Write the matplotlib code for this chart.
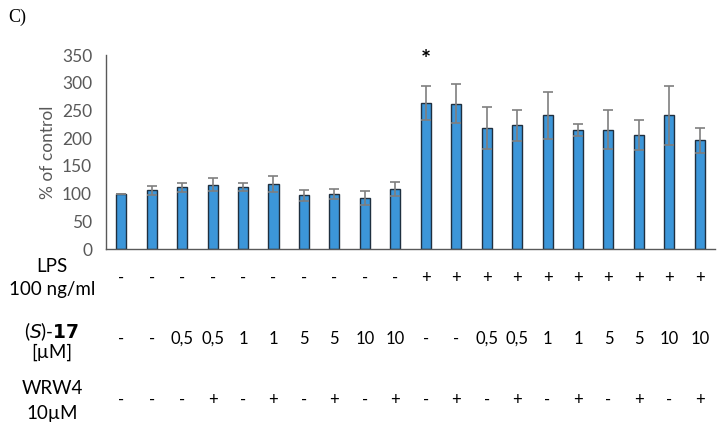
import numpy as np
import matplotlib.pyplot as plt

plt.rcParams['font.family'] = ['Lato', 'DejaVu Sans']

values = [100, 106, 111, 116, 112, 117, 97, 99, 92, 108,
          264, 262, 219, 223, 241, 215, 215, 206, 241, 196]
errors = [0, 8, 9, 12, 8, 15, 10, 9, 13, 13,
          31, 35, 38, 28, 42, 11, 35, 27, 54, 23]
lps = ['-'] * 10 + ['+'] * 10
conc = ['-', '-', '0,5', '0,5', '1', '1', '5', '5', '10', '10'] * 2
wrw4 = ['-', '-', '-', '+', '-', '+', '-', '+', '-', '+',
        '-', '+', '-', '+', '-', '+', '-', '+', '-', '+']
yticks = [0, 50, 100, 150, 200, 250, 300, 350]

fig = plt.figure(figsize=(7.24, 4.30), dpi=100)
ax = fig.add_axes([0.1464, 0.4209, 0.8412, 0.4511])

x = np.arange(len(values))
ax.bar(x, values, width=0.33, color='#3C96D9', edgecolor='#1F2F3F', linewidth=1.0)
ax.errorbar(x, values, yerr=errors, fmt='none', ecolor='#7F7F7F',
            elinewidth=1.2, capsize=3.6, capthick=1.2)

ax.set_xlim(-0.5, len(values) - 0.5)
ax.set_ylim(0, 350)
ax.set_yticks(yticks)
ax.set_xticks([])
ax.tick_params(axis='y', length=0, labelsize=12.5, labelcolor='#595959', pad=10)
for s in ['top', 'right']:
    ax.spines[s].set_visible(False)
for s in ['left', 'bottom']:
    ax.spines[s].set_color('#595959')
    ax.spines[s].set_linewidth(1.0)
ax.set_ylabel('% of control', fontsize=12.5, color='#595959', labelpad=4)

ax.text(10, 340, '*', ha='center', va='center', fontsize=17, fontweight='bold')

# treatment table under the bars
trans = ax.get_xaxis_transform()
for i in range(len(values)):
    ax.text(i, -0.149, lps[i], transform=trans, ha='center', va='center', fontsize=12, clip_on=False)
    ax.text(i, -0.464, conc[i], transform=trans, ha='center', va='center', fontsize=12, clip_on=False)
    ax.text(i, -0.778, wrw4[i], transform=trans, ha='center', va='center', fontsize=12, clip_on=False)

lx = 0.072
fig.text(lx, 1 - 266 / 430, 'LPS', ha='center', va='center', fontsize=13.5)
fig.text(lx, 1 - 289 / 430, '100 ng/ml', ha='center', va='center', fontsize=13.5)
fig.text(lx, 1 - 332 / 430, r'($\it{S}$)-$\bf{17}$', ha='center', va='center', fontsize=13.5)
fig.text(lx, 1 - 352 / 430, '[µM]', ha='center', va='center', fontsize=13.5)
fig.text(lx, 1 - 388 / 430, 'WRW4', ha='center', va='center', fontsize=13.5)
fig.text(lx, 1 - 413 / 430, '10µM', ha='center', va='center', fontsize=13.5)

fig.text(0.011, 1 - 17 / 430, 'C)', ha='left', va='center', fontsize=13, family='Liberation Serif')

fig.savefig('out.png', dpi=100)
